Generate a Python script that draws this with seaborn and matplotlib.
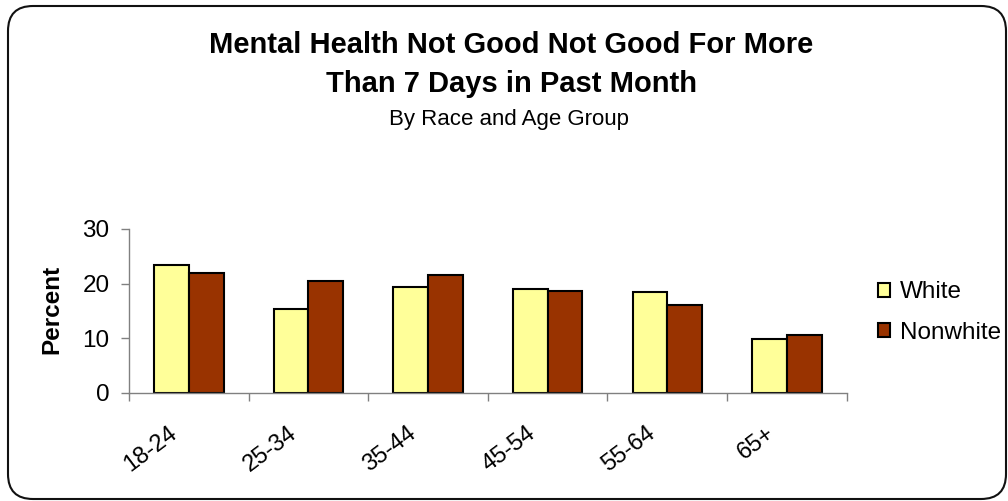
import pandas as pd
import matplotlib
matplotlib.use("Agg")
import matplotlib.pyplot as plt
import seaborn as sns
from matplotlib.patches import FancyBboxPatch
from matplotlib.transforms import IdentityTransform, offset_copy

# dados
age_groups = ['18-24', '25-34', '35-44', '45-54', '55-64', '65+']
white = [23.4, 15.4, 19.4, 19.0, 18.4, 9.9]
nonwhite = [22.0, 20.5, 21.6, 18.7, 16.1, 10.6]
series = ['White', 'Nonwhite']
cores = {'White': '#FFFF99', 'Nonwhite': '#993300'}

df = pd.DataFrame({
    'Age': age_groups * 2,
    'Percent': white + nonwhite,
    'Race': ['White'] * len(age_groups) + ['Nonwhite'] * len(age_groups),
})

sns.set_theme(style="white")
plt.rcParams['font.family'] = ['Liberation Sans', 'DejaVu Sans']
plt.rcParams['text.color'] = 'black'
plt.rcParams['xtick.color'] = 'black'
plt.rcParams['ytick.color'] = 'black'

fig = plt.figure(figsize=(10.08, 5.01), dpi=100)
ax = fig.add_axes([0.128, 0.2156, 0.712, 0.3274])

sns.barplot(data=df, x='Age', y='Percent', hue='Race', hue_order=series,
            order=age_groups, palette=cores, saturation=1, width=0.58, gap=0,
            edgecolor='black', linewidth=1.5, errorbar=None, ax=ax)

ax.set_xlim(-0.5, len(age_groups) - 0.5)
ax.set_ylim(0, 30)
ax.set_yticks([0, 10, 20, 30])
ax.set_xlabel('')
ax.set_ylabel('')

# marcas entre as categorias
ax.set_xticks([i - 0.5 for i in range(len(age_groups) + 1)], minor=True)
ax.set_xticks(range(len(age_groups)))
ax.tick_params(axis='x', which='major', bottom=True, length=0, pad=21)
ax.tick_params(axis='x', which='minor', bottom=True, length=6, width=1,
               color='#808080', direction='out')
ax.tick_params(axis='y', left=True, length=6, width=1, color='#808080',
               labelcolor='black', direction='out', labelsize=17.5, pad=8)
ax.set_xticklabels(age_groups, rotation=37, ha='right', rotation_mode='anchor',
                   fontsize=17, color='black')
for lbl in ax.get_xticklabels():
    lbl.set_transform(offset_copy(lbl.get_transform(), fig=fig, x=-21, y=0, units='dots'))

for s in ['top', 'right']:
    ax.spines[s].set_visible(False)
for s in ['left', 'bottom']:
    ax.spines[s].set_color('#808080')
    ax.spines[s].set_linewidth(1)

leg = ax.legend(loc='center left', bbox_to_anchor=(1.01, 0.49), frameon=False,
                fontsize=17.5, handlelength=0.5, handleheight=0.5, labelspacing=0.75,
                handletextpad=0.4, borderaxespad=0.6)
for t in leg.get_texts():
    t.set_color('black')

fig.text(0.507, 0.910, 'Mental Health Not Good Not Good For More', ha='center', va='center',
         fontsize=21, fontweight='bold')
fig.text(0.507, 0.832, 'Than 7 Days in Past Month', ha='center', va='center',
         fontsize=21, fontweight='bold')
fig.text(0.505, 0.762, 'By Race and Age Group', ha='center', va='center', fontsize=16)
fig.text(0.051, 0.383, 'Percent', rotation=90, ha='center', va='center',
         fontsize=17.5, fontweight='bold')

# moldura arredondada
borda = FancyBboxPatch((8 + 25, 2 + 25), 998 - 50, 493 - 50,
                       boxstyle='round,pad=25', transform=IdentityTransform(),
                       facecolor='none', edgecolor='#111111', linewidth=1.5)
fig.patches.append(borda)

fig.savefig('out.png', dpi=100)
